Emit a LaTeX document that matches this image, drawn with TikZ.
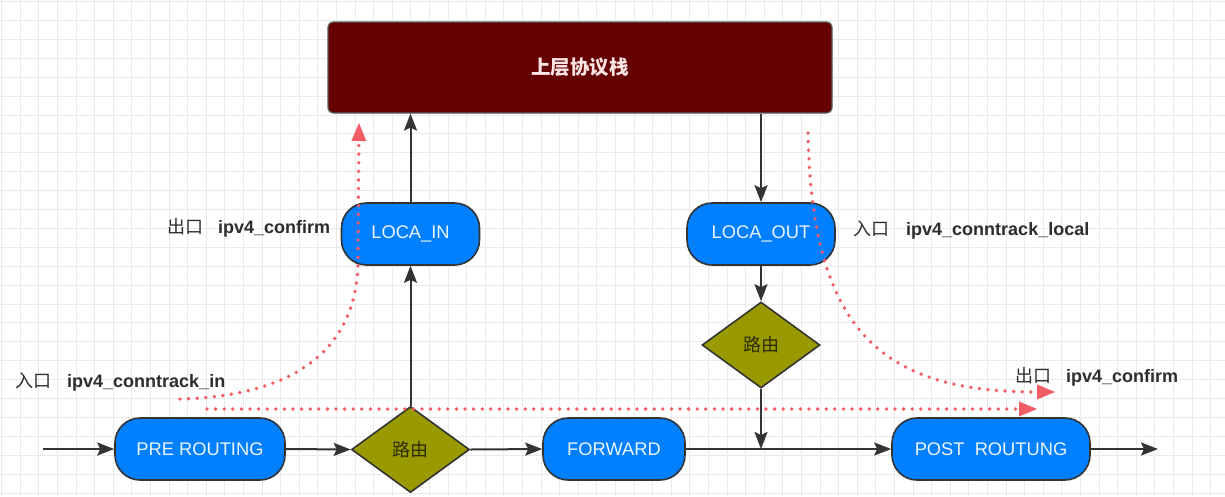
\documentclass[tikz,border=0pt]{standalone}
\usepackage{fontspec}
\setmainfont{Liberation Sans}
\newfontfamily\cjk{Noto Sans CJK SC}
\usetikzlibrary{arrows.meta,shapes.geometric}
\definecolor{blueA}{RGB}{0,127,255}
\definecolor{oliveA}{RGB}{153,153,0}
\definecolor{dredA}{RGB}{102,0,0}
\definecolor{lnk}{RGB}{51,51,51}
\definecolor{redA}{RGB}{242,92,100}
\definecolor{gridc}{RGB}{234,234,234}
\definecolor{txtA}{RGB}{45,45,45}
\begin{document}
\begin{tikzpicture}[x=1pt,y=-1pt,
  pill/.style={draw=lnk, line width=1.6pt, fill=blueA, rounded corners=25pt,
    minimum height=62pt, inner sep=0pt, text={rgb,255:red,235;green,245;blue,255},
    font=\fontsize{18.3}{20}\selectfont},
  dia/.style={diamond, draw=lnk, line width=1.6pt, fill=oliveA,
    minimum width=118pt, minimum height=86pt, inner sep=0pt,
    text={rgb,255:red,45;green,45;blue,0}, font=\cjk\fontsize{18}{20}\selectfont},
  stackbox/.style={draw=lnk!80, line width=1.2pt, fill=dredA, rounded corners=5pt,
    minimum width=504pt, minimum height=91pt, inner sep=0pt,
    text={rgb,255:red,250;green,228;blue,228}, font=\cjk\bfseries\fontsize{19.5}{22}\selectfont},
  lbl/.style={anchor=west, inner sep=0pt, text=txtA, font=\bfseries\fontsize{18}{20}\selectfont},
  conn/.style={draw=lnk, line width=2pt, -{Stealth[length=17pt,width=13pt,inset=3pt]}},
  reddot/.style={draw=redA, line width=3.8pt, line cap=round, dash pattern=on 0pt off 8.6pt,
    -{Triangle[length=18pt,width=15pt,line width=0pt,fill=redA]}}
]
\useasboundingbox (0,0) rectangle (1225,496);
\fill[white] (0,0) rectangle (1225,496);
% grid
\foreach \i in {0,...,66} \draw[gridc, line width=0.8pt] (1.5+18.6*\i,0) -- ++(0,496);
\foreach \j in {0,...,26} \draw[gridc, line width=0.8pt] (0,1.5+18.9*\j) -- ++(1225,0);

% nodes
\node[stackbox] (stack) at (580,67.5) {上层协议栈};
\node[pill, minimum width=138pt] (lin) at (410.5,234) {LOCA\_IN};
\node[pill, minimum width=148pt] (lout) at (761,234) {LOCA\_OUT};
\node[pill, minimum width=170pt] (pre) at (200,449) {PRE ROUTING};
\node[dia] (d1) at (410.5,449.5) {路由};
\node[pill, minimum width=142pt] (fwd) at (614,449) {FORWARD};
\node[pill, minimum width=198pt] (post) at (991,449) {POST\ \ ROUTUNG};
\node[dia] (d2) at (761,345) {路由};

% labels
\node[lbl] (l1) at (167,228) {{\mdseries\cjk 出口}\hspace{15pt}ipv4\_confirm};
\node[lbl] (l2) at (15,382) {{\mdseries\cjk 入口}\hspace{16pt}ipv4\_conntrack\_in};
\node[lbl] (l3) at (853,230) {{\mdseries\cjk 入口}\hspace{17pt}ipv4\_conntrack\_local};
\node[lbl] (l4) at (1015,377) {{\mdseries\cjk 出口}\hspace{15pt}ipv4\_confirm};

% free ends
\coordinate (inA) at (43,449);
\coordinate (outA) at (1158,449);

% black connectors
\draw[conn] (inA) -- (pre.west);
\draw[conn] (pre.east) -- (d1.west);
\draw[conn] (d1.east) -- (fwd.west);
\draw[conn] (fwd.east) -- (post.west);
\draw[conn] (post.east) -- (outA);
\draw[conn] (d1.north) -- (d1.north |- lin.south);
\draw[conn] (lin.north) -- (lin.north |- stack.south);
\draw[conn] (stack.south -| lout.north) -- (lout.north);
\draw[conn] (lout.south) -- (d2.north);
\draw[conn] (d2.south) -- (d2.south |- fwd.east);

% red dotted flows
\coordinate (r1s) at (180,399);
\coordinate (r1e) at (359,123);
\coordinate (r2s) at (207,409);
\coordinate (r2e) at (1037,409);
\coordinate (r3s) at (808,133);
\coordinate (r3e) at (1055,392);
\draw[reddot] (r1s) .. controls (300,396) and (357,345) .. (358,262) -- (r1e);
\draw[reddot] (r2s) -- (r2e);
\draw[reddot] (r3s) .. controls (812,330) and (880,392) .. (r3e);
\end{tikzpicture}
\end{document}
